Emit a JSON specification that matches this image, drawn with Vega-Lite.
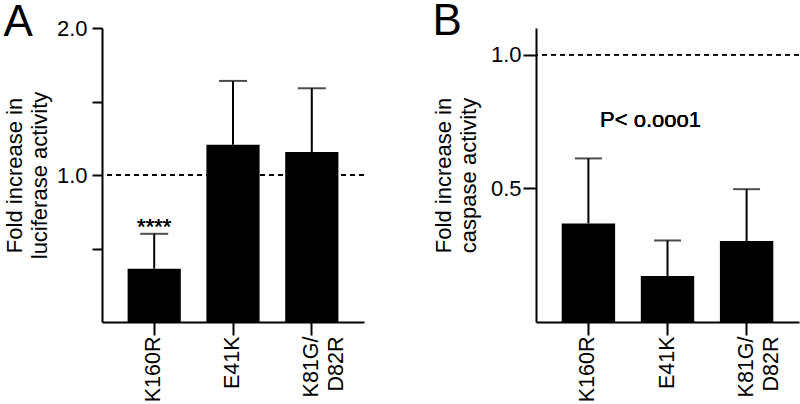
{
  "$schema": "https://vega.github.io/schema/vega-lite/v6.json",
  "padding": {"left": 3, "top": 0, "right": 0, "bottom": 0},
  "background": "white",
  "spacing": 67,
  "config": {
    "view": {"stroke": null},
    "font": "Liberation Sans",
    "axis": {
      "domainColor": "black", "domainWidth": 2,
      "tickColor": "black", "tickWidth": 2,
      "labelColor": "black", "titleColor": "black",
      "labelFont": "Liberation Sans", "titleFont": "Liberation Sans",
      "grid": false, "titleFontWeight": "normal"
    }
  },
  "datasets": {
    "luciferase": [
      {"mutant": "K160R", "mean": 0.363, "upper": 0.60},
      {"mutant": "E41K", "mean": 1.205, "upper": 1.64},
      {"mutant": "K81G/D82R", "mean": 1.157, "upper": 1.59}
    ],
    "caspase": [
      {"mutant": "K160R", "mean": 0.369, "upper": 0.612},
      {"mutant": "E41K", "mean": 0.172, "upper": 0.305},
      {"mutant": "K81G/D82R", "mean": 0.303, "upper": 0.497}
    ]
  },
  "hconcat": [
    {
      "width": 262,
      "height": 294,
      "title": {"text": "A", "fontSize": 44, "fontWeight": "normal", "anchor": "start", "baseline": "top", "offset": -28, "color": "black", "font": "Liberation Sans"},
      "data": {"name": "luciferase"},
      "encoding": {
        "x": {
          "field": "mutant", "type": "nominal", "sort": null,
          "scale": {"paddingInner": 0.325, "paddingOuter": 0.325},
          "axis": {
            "title": null, "labelAngle": -90, "labelFontSize": 21.5, "tickSize": 13,
            "labelPadding": 1, "labelLimit": 0, "labelLineHeight": 25,
            "labelExpr": "datum.label == 'K81G/D82R' ? ['K81G/', 'D82R'] : datum.label"
          }
        }
      },
      "layer": [
        {
          "mark": {"type": "rule", "strokeDash": [5, 4], "strokeWidth": 1.5, "color": "black"},
          "encoding": {"x": null, "y": {"datum": 1, "type": "quantitative"}}
        },
        {
          "mark": {"type": "bar", "color": "black"},
          "encoding": {
            "y": {
              "field": "mean", "type": "quantitative",
              "scale": {"domain": [0, 2], "nice": false},
              "axis": {
                "values": [0.5, 1, 1.5, 2],
                "labelExpr": "datum.value == 1 || datum.value == 2 ? format(datum.value, '.1f') : ''",
                "tickSize": 10, "labelFontSize": 22, "labelPadding": 5,
                "title": ["Fold increase in", "luciferase activity"],
                "titleFontSize": 22, "titlePadding": 5, "titleLineHeight": 25,
                "encode": {"ticks": {"update": {"x2": {"signal": "datum.value == 1 || datum.value == 2 ? -10 : -6"}}}}
              }
            }
          }
        },
        {
          "mark": {"type": "rule", "strokeWidth": 2, "color": "black"},
          "encoding": {"y": {"field": "mean", "type": "quantitative"}, "y2": {"field": "upper"}}
        },
        {
          "mark": {"type": "tick", "size": 28, "thickness": 2, "color": "black"},
          "encoding": {"y": {"field": "upper", "type": "quantitative"}}
        },
        {
          "mark": {"type": "text", "fontSize": 22, "color": "black", "baseline": "middle"},
          "encoding": {"x": {"datum": "K160R"}, "y": {"datum": 0.645, "type": "quantitative"}, "text": {"value": "****"}}
        }
      ]
    },
    {
      "width": 263,
      "height": 294,
      "title": {"text": "B", "fontSize": 44, "fontWeight": "normal", "anchor": "start", "baseline": "top", "offset": -16, "color": "black", "font": "Liberation Sans"},
      "data": {"name": "caspase"},
      "encoding": {
        "x": {
          "field": "mutant", "type": "nominal", "sort": null,
          "scale": {"paddingInner": 0.325, "paddingOuter": 0.325},
          "axis": {
            "title": null, "labelAngle": -90, "labelFontSize": 21.5, "tickSize": 13,
            "labelPadding": 1, "labelLimit": 0, "labelLineHeight": 25,
            "labelExpr": "datum.label == 'K81G/D82R' ? ['K81G/', 'D82R'] : datum.label"
          }
        }
      },
      "layer": [
        {
          "mark": {"type": "rule", "strokeDash": [5, 4], "strokeWidth": 1.5, "color": "black"},
          "encoding": {"x": null, "y": {"datum": 1, "type": "quantitative"}}
        },
        {
          "mark": {"type": "bar", "color": "black"},
          "encoding": {
            "y": {
              "field": "mean", "type": "quantitative",
              "scale": {"domain": [0, 1.1], "nice": false},
              "axis": {
                "values": [0.5, 1],
                "format": ".1f",
                "tickSize": 13, "labelFontSize": 22, "labelPadding": 2,
                "title": ["Fold increase in", "caspase activity"],
                "titleFontSize": 22, "titlePadding": 10, "titleLineHeight": 25
              }
            }
          }
        },
        {
          "mark": {"type": "rule", "strokeWidth": 2, "color": "black"},
          "encoding": {"y": {"field": "mean", "type": "quantitative"}, "y2": {"field": "upper"}}
        },
        {
          "mark": {"type": "tick", "size": 27, "thickness": 2, "color": "black"},
          "encoding": {"y": {"field": "upper", "type": "quantitative"}}
        },
        {
          "mark": {"type": "text", "fontSize": 22, "color": "black", "baseline": "middle", "dx": -17},
          "encoding": {"x": {"datum": "E41K"}, "y": {"datum": 0.754, "type": "quantitative"}, "text": {"value": "P< o.ooo1"}}
        }
      ]
    }
  ]
}
